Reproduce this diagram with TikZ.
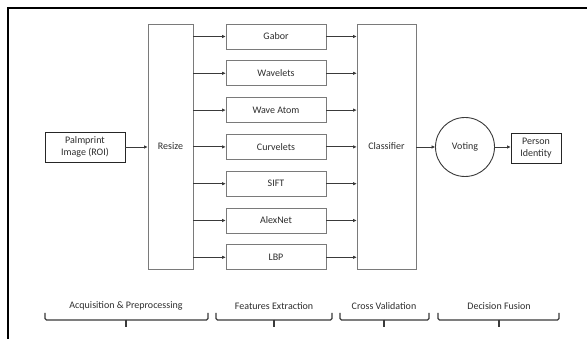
\documentclass[tikz,border=0pt]{standalone}
\usepackage{fontspec}
\setmainfont{Carlito}
\usetikzlibrary{arrows.meta}
\definecolor{boxgray}{HTML}{7A7A7A}
\definecolor{txtgray}{HTML}{2E2E2E}
\definecolor{linegray}{HTML}{3A3A3A}
\begin{document}
\begin{tikzpicture}[x=1pt,y=-1pt,
  every node/.style={font=\fontsize{10}{11.5}\selectfont, text=txtgray, inner sep=1pt, align=center},
  bigbox/.style={draw=boxgray, line width=0.9pt, minimum width=#1, minimum height=245pt},
  featbox/.style={draw=boxgray, line width=0.9pt, minimum width=100pt, minimum height=25pt},
  endbox/.style={draw=black!85, line width=0.9pt, minimum height=30pt},
  conn/.style={draw=linegray, line width=0.8pt, -{Triangle[length=3.5pt,width=3pt]}},
  bracepath/.style={draw=linegray, line width=1.1pt, rounded corners=1.5pt},
  bracelabel/.style={font=\fontsize{10}{11.5}\selectfont}
]
\useasboundingbox (0,0) rectangle (587,339);
\fill[white] (0,0) rectangle (587,339);
% outer frame (cropped)
\draw[black, line width=1.6pt] (8,339) -- (8,8) -- (587,8);

% nodes
\node[endbox, minimum width=80pt] (palm) at (85,147) {Palmprint\\Image (ROI)};
\node[bigbox=45pt] (resize) at (170.5,146.5) {Resize};
\node[featbox] (gabor) at (276,36.5) {Gabor};
\node[featbox] (wav) at (276,73.3) {Wavelets};
\node[featbox] (atom) at (276,110.1) {Wave Atom};
\node[featbox] (curv) at (276,146.9) {Curvelets};
\node[featbox] (sift) at (276,183.7) {SIFT};
\node[featbox] (alex) at (276,220.5) {AlexNet};
\node[featbox] (lbp) at (276,257.3) {LBP};
\node[bigbox=59pt] (clf) at (386.5,146.5) {Classifier};
\node[draw=linegray, line width=0.9pt, circle, minimum size=59pt] (vote) at (465,147) {Voting};
\node[endbox, minimum width=50pt] (person) at (536,148) {Person\\Identity};

% connectors
\draw[conn] (palm.east) -- (palm.east -| resize.west);
\foreach \f in {gabor,wav,atom,curv,sift,alex,lbp}{
  \draw[conn] (resize.east |- \f.west) -- (\f.west);
  \draw[conn] (\f.east) -- (clf.west |- \f.east);
}
\draw[conn] (clf.east |- vote.west) -- (vote.west);
\draw[conn] (vote.east) -- (vote.east -| person.west);

% braces
\foreach \a/\b/\m/\t [count=\i] in {45/208/126/Acquisition \& Preprocessing,
                                  216/332/274/Features Extraction,
                                  340/429/384/Cross Validation,
                                  438/559/499/Decision Fusion}{
  \draw[bracepath] (\a,313) -- (\a,320) -- (\b,320) -- (\b,313);
  \draw[draw=linegray, line width=1.1pt] (\m,320) -- (\m,327);
  \node[bracelabel] (lab\i) at (\m,306) {\t};
}
\end{tikzpicture}
\end{document}
